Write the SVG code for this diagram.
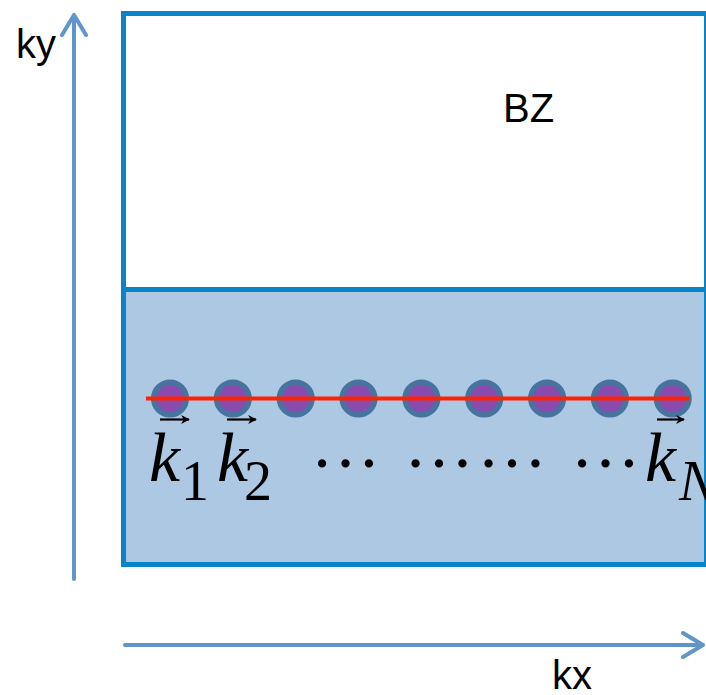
<svg xmlns="http://www.w3.org/2000/svg" width="706" height="695" viewBox="0 0 706 695">
<defs>
<style>
.axis{stroke:#5F95CB;stroke-width:4;fill:none;stroke-linecap:round;stroke-linejoin:round}
.lbl{font-family:"Liberation Sans",Arial,sans-serif;font-size:40px;fill:#000}
.math{font-family:"Liberation Serif","Times New Roman",serif;font-style:italic;fill:#000}
.num{font-family:"Liberation Serif","Times New Roman",serif;fill:#000}
.ring{fill:#8A4AAE;stroke:#48739F;stroke-width:5.5}
.vec{stroke:#000;stroke-width:2.2;marker-end:url(#ah)}
</style>
<marker id="ah" viewBox="0 0 10 10" refX="9" refY="5" markerWidth="4" markerHeight="4" markerUnits="strokeWidth" orient="auto">
<path d="M0,0 L10,5 L0,10 L3,5 z" fill="#000"/>
</marker>
</defs>
<rect width="706" height="695" fill="#fff"/>
<g id="bz">
<rect x="123.5" y="289.5" width="583" height="275" fill="#ACC8E3"/>
<rect x="123.5" y="13.5" width="583" height="551" fill="none" stroke="#0A84C8" stroke-width="5"/>
<line x1="123.5" y1="289.5" x2="706" y2="289.5" stroke="#0A84C8" stroke-width="5"/>
<text class="lbl" x="503" y="122">BZ</text>
</g>
<g id="axes">
<path class="axis" d="M74,579 V15 M62,35 L74,15 L86,35"/>
<path class="axis" d="M125,645 H703 M683,633 L703,645 L683,657"/>
<text class="lbl" x="16" y="58">ky</text>
<text class="lbl" x="552" y="689">kx</text>
</g>
<g id="points">
<circle class="ring" cx="170" cy="398.5" r="16.3"/>
<circle class="ring" cx="232.8" cy="398.5" r="16.3"/>
<circle class="ring" cx="295.7" cy="398.5" r="16.3"/>
<circle class="ring" cx="358.5" cy="398.5" r="16.3"/>
<circle class="ring" cx="421.4" cy="398.5" r="16.3"/>
<circle class="ring" cx="484.2" cy="398.5" r="16.3"/>
<circle class="ring" cx="547.1" cy="398.5" r="16.3"/>
<circle class="ring" cx="609.9" cy="398.5" r="16.3"/>
<circle class="ring" cx="672.7" cy="398.5" r="16.3"/>
</g>
<g id="connectors">
<line x1="146" y1="398.5" x2="689.5" y2="398.5" stroke="#FF2200" stroke-width="4"/>
</g>
<g id="labels">
<line class="vec" x1="160" y1="419.5" x2="189" y2="419.5"/>
<line class="vec" x1="227" y1="419.5" x2="256" y2="419.5"/>
<line class="vec" x1="657" y1="419.5" x2="684" y2="419.5"/>
<text class="math" x="149" y="481" font-size="70">k</text>
<text class="num" x="181" y="500" font-size="56">1</text>
<text class="math" x="217" y="481" font-size="70">k</text>
<text class="num" x="244" y="500" font-size="56">2</text>
<text class="math" x="645" y="481" font-size="70">k</text>
<text class="math" x="679" y="500" font-size="56">N</text>
<text class="num" x="310.5" y="467" font-size="70">…</text>
<text class="num" x="404" y="467" font-size="70">…</text>
<text class="num" x="477" y="467" font-size="70">…</text>
<text class="num" x="570.5" y="467" font-size="70">…</text>
</g>
</svg>
